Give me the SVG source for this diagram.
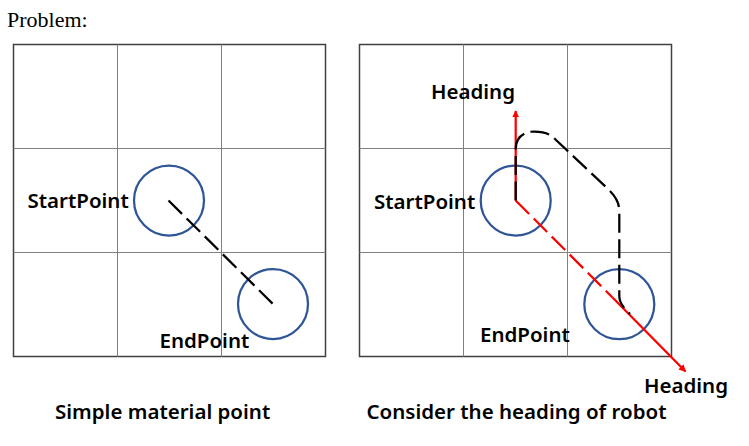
<svg xmlns="http://www.w3.org/2000/svg" width="749" height="446" viewBox="0 0 749 446">
<defs>
<style>
.bg{fill:#ffffff}
.outer{fill:none;stroke:#404040;stroke-width:1.5}
.inner{fill:none;stroke:#808080;stroke-width:1}
.robot{fill:none;stroke:#2F5597;stroke-width:2.25}
.lbl{font-family:"Noto Sans","Open Sans","Liberation Sans",sans-serif;font-size:20.5px;font-weight:600;fill:#000}
.title{font-family:"Liberation Serif","Times New Roman",serif;font-size:22px;fill:#000}
.blackdash{fill:none;stroke:#000;stroke-width:2.25;stroke-dasharray:19 6.5}
.reddash{fill:none;stroke:#ff0000;stroke-width:2.25;stroke-dasharray:19 6.5}
.red{fill:none;stroke:#ff0000;stroke-width:2.25}
</style>
<marker id="arr" viewBox="0 0 10 10" refX="9" refY="5" markerWidth="3.2" markerHeight="3.2" orient="auto" markerUnits="strokeWidth">
<path d="M0,0 L10,5 L0,10 Z" fill="#ff0000"/>
</marker>
</defs>
<rect class="bg" x="0" y="0" width="749" height="446"/>
<text class="title" x="7" y="26.5">Problem:</text>

<g id="grid-left">
<rect class="outer" x="13.5" y="44.5" width="312" height="312"/>
<path class="inner" d="M117.5,44.5V356.5M221.5,44.5V356.5M13.5,148.5H325.5M13.5,252.5H325.5"/>
</g>
<g id="grid-right">
<rect class="outer" x="359.5" y="44.5" width="312" height="312"/>
<path class="inner" d="M463.5,44.5V356.5M567.5,44.5V356.5M359.5,148.5H671.5M359.5,252.5H671.5"/>
</g>

<g id="start-left">
<circle class="robot" cx="169" cy="200.5" r="35"/>
<text class="lbl" x="27.5" y="207.5">StartPoint</text>
</g>
<g id="end-left">
<circle class="robot" cx="273" cy="304" r="35"/>
<text class="lbl" x="159.5" y="348">EndPoint</text>
</g>
<text class="lbl" x="55" y="419">Simple material point</text>

<g id="start-right">
<circle class="robot" cx="515.7" cy="200.5" r="35"/>
<text class="lbl" x="374" y="208.5">StartPoint</text>
</g>
<g id="end-right">
<circle class="robot" cx="619.3" cy="304.2" r="35"/>
<text class="lbl" x="480" y="342">EndPoint</text>
</g>
<g id="heading-top">
<text class="lbl" x="431" y="98.5">Heading</text>
</g>
<g id="heading-bottom">
<text class="lbl" x="644" y="393">Heading</text>
</g>
<text class="lbl" x="366.5" y="419">Consider the heading of robot</text>

<g id="connectors">
<line class="blackdash" x1="168.5" y1="200.5" x2="273.3" y2="304.3"/>
<line class="red" x1="515.7" y1="200.5" x2="515.7" y2="111" marker-end="url(#arr)"/>
<line class="reddash" x1="515.7" y1="200.5" x2="612.5" y2="297.5"/>
<line class="red" x1="612.5" y1="297.5" x2="685.5" y2="371.5" marker-end="url(#arr)"/>
<path class="blackdash" d="M515.7,200.5 V149 C515.7,138 523,131.5 534,131.5 C544,131.5 549,133 556,140 L607,188 C614,195 619.3,200 619.3,212 V296 C619.3,303 623,307 630,314"/>
</g>
</svg>
